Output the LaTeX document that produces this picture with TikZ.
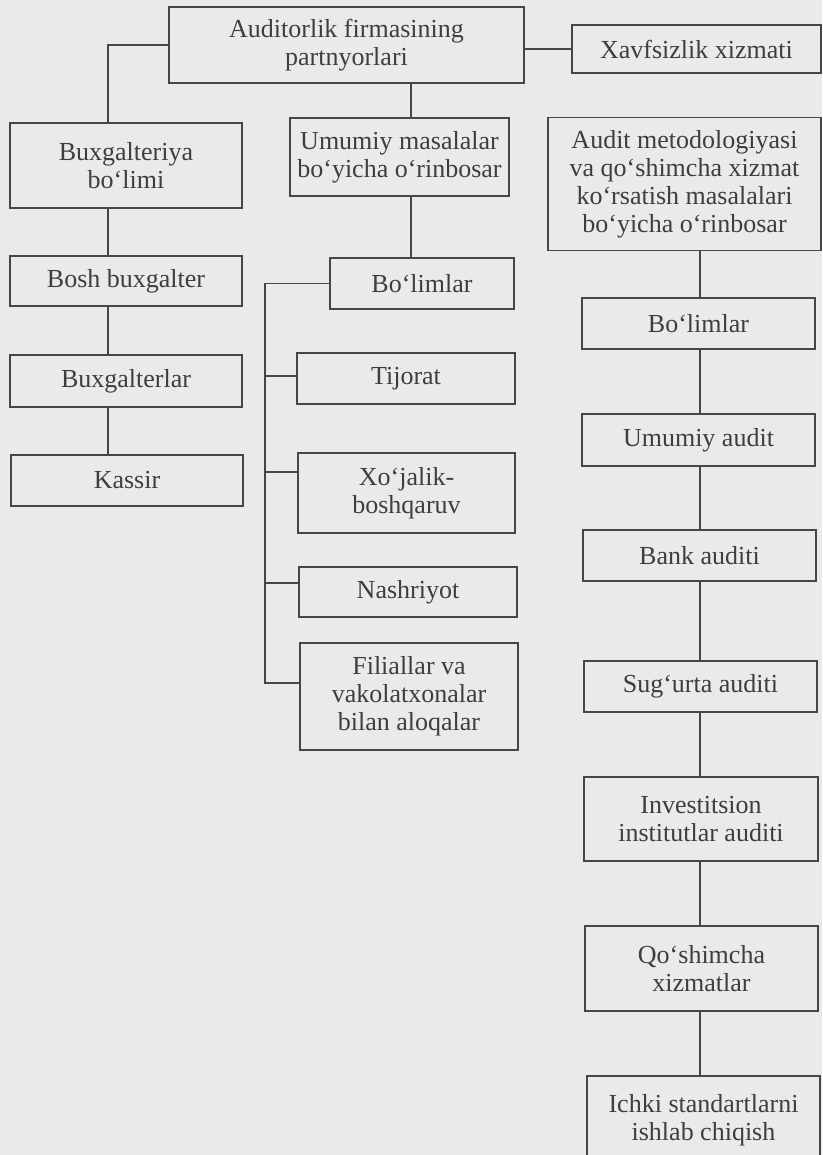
\documentclass[tikz,border=0pt]{standalone}
\usepackage{fontspec}
\setmainfont{Liberation Serif}
\definecolor{bgc}{RGB}{234,234,232}
\definecolor{inkc}{RGB}{62,62,62}
\definecolor{linec}{RGB}{70,70,70}
\begin{document}
\begin{tikzpicture}[x=1pt,y=-1pt,
  box/.style={draw=linec, line width=1.3pt, inner sep=0pt, align=center, text=inkc,
    font=\fontsize{26}{28}\selectfont},
  conn/.style={draw=linec, line width=1.3pt}]
\fill[bgc] (0,0) rectangle (822,1155);
\useasboundingbox (0,0) rectangle (822,1155);
% nodes
\node[box, minimum width=355pt, minimum height=76pt] (top) at (346.5,45) {Auditorlik firmasining\\partnyorlari};
\node[box, minimum width=249pt, minimum height=48pt] (xav) at (696.5,49) {Xavfsizlik xizmati};
\node[box, minimum width=232pt, minimum height=85pt] (buxg) at (126,165.5) {Buxgalteriya\\bo‘limi};
\node[box, minimum width=219pt, minimum height=78pt] (umum) at (399.5,157) {Umumiy masalalar\\bo‘yicha o‘rinbosar};
\node[box, minimum width=273pt, minimum height=133pt] (audm) at (684.5,184) {Audit metodologiyasi\\va qo‘shimcha xizmat\\ko‘rsatish masalalari\\bo‘yicha o‘rinbosar};
\node[box, minimum width=232pt, minimum height=50pt] (bosh) at (126,281) {Bosh buxgalter};
\node[box, minimum width=232pt, minimum height=52pt] (buxl) at (126,381) {Buxgalterlar};
\node[box, minimum width=232pt, minimum height=51pt] (kass) at (127,480.5) {Kassir};
\node[box, minimum width=184pt, minimum height=51pt] (bol1) at (422,283.5) {Bo‘limlar};
\node[box, minimum width=218pt, minimum height=51pt] (tij) at (406,378.5) {Tijorat};
\node[box, minimum width=217pt, minimum height=80pt] (xoj) at (406.5,493) {Xo‘jalik-\\boshqaruv};
\node[box, minimum width=218pt, minimum height=50pt] (nash) at (408,592) {Nashriyot};
\node[box, minimum width=218pt, minimum height=107pt] (fil) at (409,696.5) {Filiallar va\\vakolatxonalar\\bilan aloqalar};
\node[box, minimum width=233pt, minimum height=51pt] (bol2) at (698.5,323.5) {Bo‘limlar};
\node[box, minimum width=233pt, minimum height=52pt] (umau) at (698.5,440) {Umumiy audit};
\node[box, minimum width=233pt, minimum height=51pt] (bank) at (699.5,555.5) {Bank auditi};
\node[box, minimum width=233pt, minimum height=51pt] (sug) at (700.5,686.5) {Sug‘urta auditi};
\node[box, minimum width=234pt, minimum height=84pt] (inv) at (701,819) {Investitsion\\institutlar auditi};
\node[box, minimum width=233pt, minimum height=85pt] (qos) at (701.5,968.5) {Qo‘shimcha\\xizmatlar};
\node[box, minimum width=233pt, minimum height=100pt, text depth=18pt] (ich) at (703.5,1126) {Ichki standartlarni\\ishlab chiqish};
% helper coordinates
\coordinate (lx) at (108,0);
\coordinate (mx) at (411,0);
\coordinate (rx) at (700,0);
\coordinate (bx) at (265,0);
\coordinate (ty) at (0,376);
\coordinate (xy) at (0,472);
\coordinate (ny) at (0,583);
\coordinate (fy) at (0,683);
% connectors
\draw[conn] (top.east |- xav.west) -- (xav.west);
\draw[conn] (top.west) -| (lx |- buxg.north);
\draw[conn] (top.south -| mx) -- (umum.north -| mx);
\draw[conn] (buxg.south -| lx) -- (bosh.north -| lx);
\draw[conn] (bosh.south -| lx) -- (buxl.north -| lx);
\draw[conn] (buxl.south -| lx) -- (kass.north -| lx);
\draw[conn] (umum.south -| mx) -- (bol1.north -| mx);
\draw[conn] (bol1.west) -| (bx |- fy) -- (fil.west |- fy);
\draw[conn] (bx |- ty) -- (tij.west |- ty);
\draw[conn] (bx |- xy) -- (xoj.west |- xy);
\draw[conn] (bx |- ny) -- (nash.west |- ny);
\draw[conn] (audm.south -| rx) -- (bol2.north -| rx);
\draw[conn] (bol2.south -| rx) -- (umau.north -| rx);
\draw[conn] (umau.south -| rx) -- (bank.north -| rx);
\draw[conn] (bank.south -| rx) -- (sug.north -| rx);
\draw[conn] (sug.south -| rx) -- (inv.north -| rx);
\draw[conn] (inv.south -| rx) -- (qos.north -| rx);
\draw[conn] (qos.south -| rx) -- (ich.north -| rx);
\end{tikzpicture}
\end{document}
